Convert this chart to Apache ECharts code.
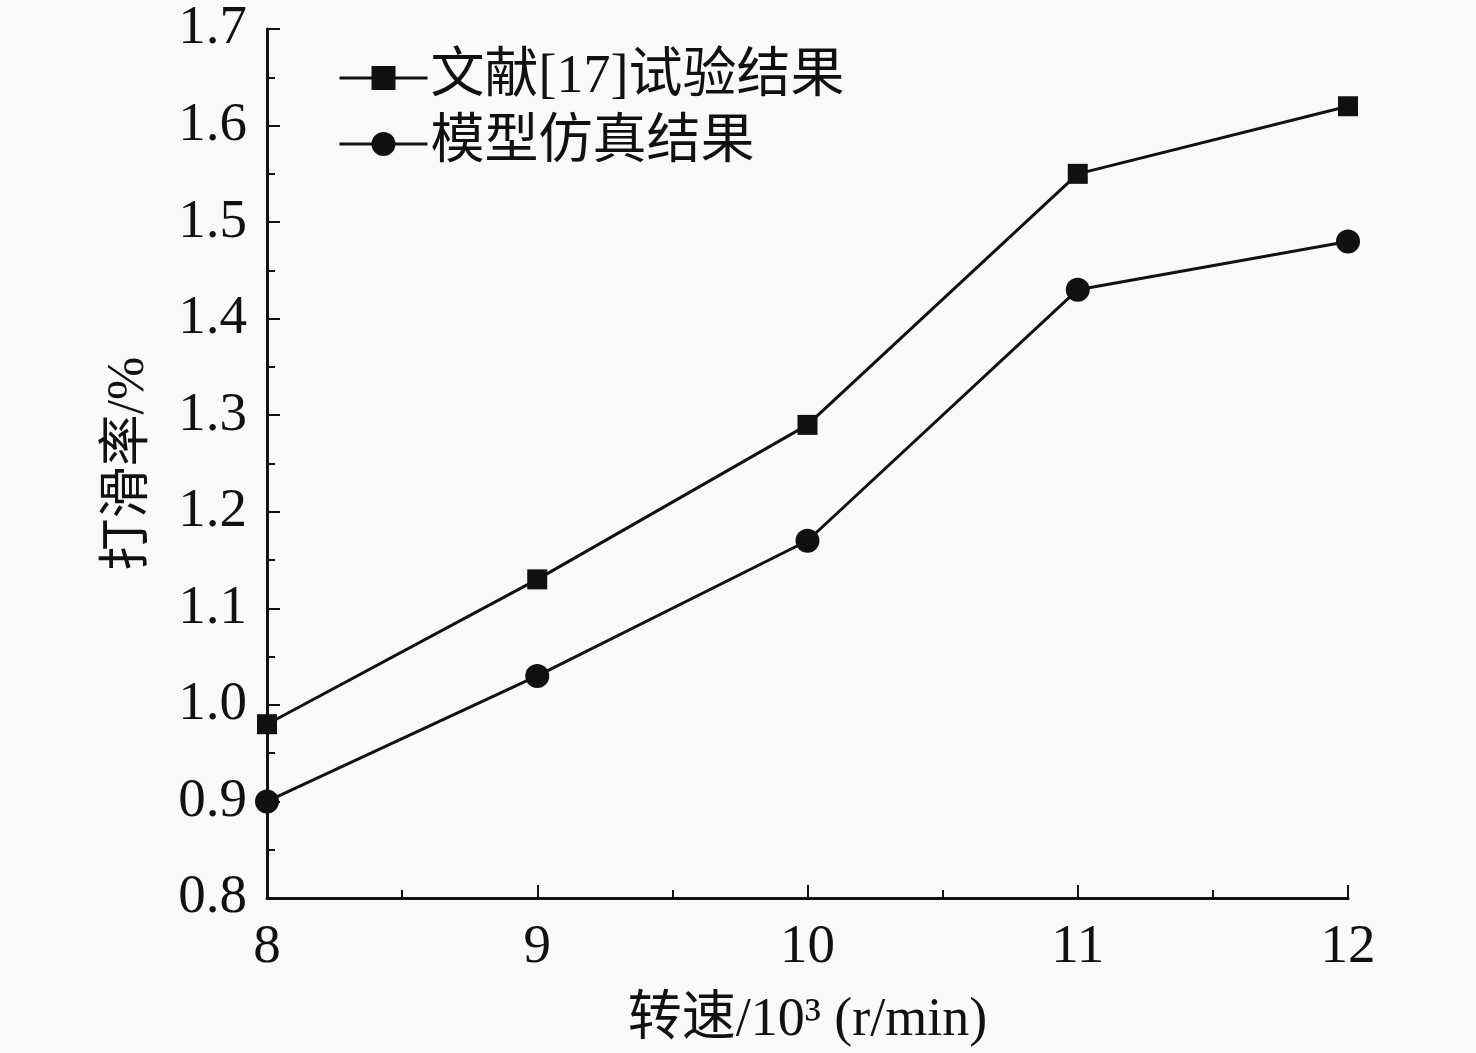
<!DOCTYPE html>
<html>
<head>
<meta charset="utf-8">
<script src="https://cdn.jsdelivr.net/npm/echarts@6/dist/echarts.min.js"></script>
<style>
html,body{margin:0;padding:0;background:#f9f9f9;}
#c{width:1476px;height:1053px;}
</style>
</head>
<body>
<div id="c"></div>
<script>
var speeds = [8, 9, 10, 11, 12];
var literature = [0.98, 1.13, 1.29, 1.55, 1.62];
var simulation = [0.90, 1.03, 1.17, 1.43, 1.48];
var seriesNames = ['文献[17]试验结果', '模型仿真结果'];
var xName = '转速/10³ (r/min)';
var yName = '打滑率/%';

var FONT = '"Liberation Serif", "Times New Roman", "Noto Sans CJK SC", serif';
function pairs(ys){ return speeds.map(function(x,i){ return [x, ys[i]]; }); }

var chart = echarts.init(document.getElementById('c'));
chart.setOption({
  backgroundColor: '#f9f9f9',
  animation: false,
  grid: {left: 267, right: 128, top: 29, bottom: 152},
  legend: {
    left: 333, top: 46, orient: 'vertical',
    itemWidth: 88, itemHeight: 30, itemGap: 12,
    lineStyle: {width: 3},
    textStyle: {fontFamily: FONT, fontSize: 54, color: '#111', padding: [0,0,0,-2]},
    data: seriesNames
  },
  xAxis: {
    type: 'value', min: 8, max: 12, interval: 1,
    name: xName, nameLocation: 'middle', nameGap: 96,
    nameTextStyle: {fontFamily: FONT, fontSize: 54, color: '#111'},
    axisLine: {show: true, lineStyle: {color: '#111', width: 3}},
    axisTick: {inside: true, length: 13, lineStyle: {color: '#111', width: 2}},
    minorTick: {show: true, splitNumber: 2, length: 8, lineStyle: {color: '#111', width: 2}},
    axisLabel: {fontFamily: FONT, fontSize: 55, color: '#111', margin: 22},
    splitLine: {show: false}
  },
  yAxis: {
    type: 'value', min: 0.8, max: 1.7, interval: 0.1,
    name: yName, nameLocation: 'middle', nameGap: 112,
    nameTextStyle: {fontFamily: FONT, fontSize: 52, color: '#111'},
    axisLine: {show: true, lineStyle: {color: '#111', width: 3}},
    axisTick: {inside: true, length: 13, lineStyle: {color: '#111', width: 2}},
    minorTick: {show: true, splitNumber: 2, length: 8, lineStyle: {color: '#111', width: 2}},
    axisLabel: {fontFamily: FONT, fontSize: 55, color: '#111', margin: 20,
      formatter: function(v){ return v.toFixed(1); }},
    splitLine: {show: false}
  },
  series: [
    {
      name: seriesNames[0], type: 'line', data: pairs(literature),
      symbol: 'rect', symbolSize: 20,
      lineStyle: {color: '#111', width: 3},
      itemStyle: {color: '#111'}
    },
    {
      name: seriesNames[1], type: 'line', data: pairs(simulation),
      symbol: 'circle', symbolSize: 24,
      lineStyle: {color: '#111', width: 3},
      itemStyle: {color: '#111'}
    }
  ]
});
</script>
</body>
</html>
